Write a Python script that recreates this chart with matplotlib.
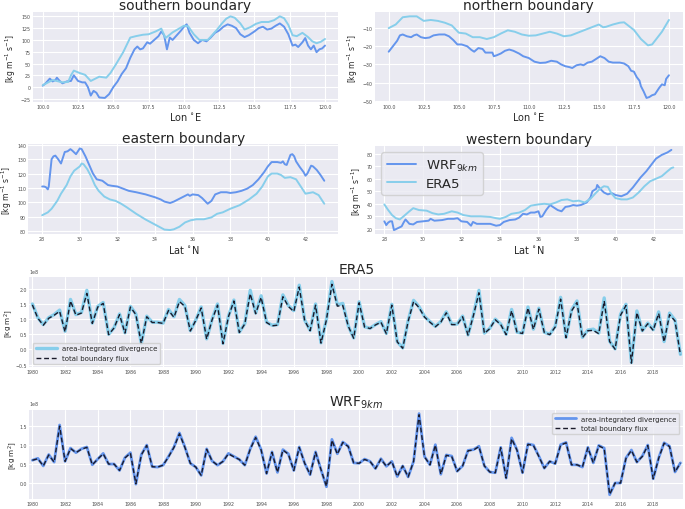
import numpy as np
import matplotlib
matplotlib.use("Agg")
import matplotlib.pyplot as plt
import seaborn as sns

# ---------------- data ----------------
# southern boundary
s_era_lon = [100.0, 100.7, 101.4, 101.8, 102.0, 102.2, 102.6, 103.0, 103.4, 104.0, 104.5, 104.8,
             105.2, 105.7, 106.2, 106.6, 107.1, 107.5, 108.0, 108.4, 108.7, 109.2, 109.6, 110.0,
             110.3, 110.7, 111.1, 111.7, 112.3, 112.7, 113.0, 113.3, 113.6, 114.0, 114.3, 114.7,
             115.1, 115.5, 116.0, 116.4, 116.8, 117.1, 117.4, 117.7, 118.0, 118.4, 118.8, 119.1,
             119.4, 119.7, 120.0]
s_era_val = [4, 15, 10, 11, 25, 35, 30, 26, 13, 22, 20, 30,
             49, 74, 105, 108, 111, 112, 118, 124, 104, 116, 123, 130,
             129, 112, 100, 100, 120, 135, 145, 150, 147, 135, 122, 127,
             134, 138, 138, 142, 150, 146, 132, 110, 108, 115, 106, 97,
             93, 96, 102]
s_wrf_lon = [100.0, 100.2, 100.5, 100.7, 100.9, 101.0, 101.2, 101.4, 101.7, 102.0, 102.2, 102.5,
             102.8, 103.0, 103.2, 103.4, 103.6, 103.8, 104.0, 104.4, 104.7, 105.0, 105.3, 105.6,
             105.9, 106.2, 106.5, 106.7, 106.9, 107.1, 107.4, 107.6, 107.9, 108.2, 108.4, 108.6,
             108.8, 109.0, 109.2, 109.5, 109.8, 110.0, 110.2, 110.4, 110.7, 111.0, 111.3, 111.6,
             111.9, 112.2, 112.5, 112.8, 113.1, 113.4, 113.7, 114.0, 114.3, 114.6, 115.0, 115.3,
             115.6, 115.9, 116.2, 116.5, 116.8, 117.1, 117.4, 117.7, 117.9, 118.1, 118.4, 118.6,
             118.8, 119.0, 119.2, 119.4, 119.6, 119.8, 120.0]
s_wrf_val = [3, 8, 18, 12, 15, 20, 13, 8, 12, 13, 25, 13,
             10, 10, 0, -18, -8, -12, -22, -23, -15, 0, 12, 28,
             40, 62, 80, 86, 80, 82, 95, 92, 100, 108, 118, 110,
             80, 105, 100, 110, 120, 128, 133, 115, 100, 93, 100, 97,
             105, 115, 120, 128, 133, 130, 125, 112, 106, 110, 118, 125,
             128, 122, 124, 130, 135, 128, 112, 88, 90, 85, 95, 104,
             88, 80, 88, 74, 80, 82, 88]

# northern boundary
n_era_lon = [100.0, 100.5, 101.0, 101.5, 102.0, 102.5, 103.0, 103.5, 104.0, 104.5, 105.0, 105.5,
             106.0, 106.5, 107.0, 107.5, 108.0, 108.5, 109.0, 109.5, 110.0, 110.5, 111.0, 111.5,
             112.0, 112.5, 113.0, 113.5, 114.0, 114.5, 115.0, 115.3, 115.5, 116.0, 116.5, 116.8,
             117.0, 117.5, 118.0, 118.5, 118.8, 119.0, 119.5, 120.0]
n_era_val = [-10, -8, -4, -3.5, -3.5, -6, -5.5, -6, -7, -8.5, -12.5, -13,
             -15, -15, -16, -15, -13, -11.2, -12, -13.5, -14.2, -14, -13, -12,
             -13, -14.5, -14, -12.5, -11, -9.5, -8, -9.5, -9.3, -8, -7, -6.8,
             -8, -11, -16, -19.5, -19, -17, -12, -5.5]
n_wrf_lon = [100.0, 100.3, 100.6, 100.8, 101.0, 101.3, 101.6, 101.8, 102.0, 102.3, 102.6, 102.9,
             103.2, 103.6, 104.0, 104.3, 104.6, 104.9, 105.2, 105.6, 105.9, 106.1, 106.4, 106.7,
             106.9, 107.2, 107.4, 107.5, 107.7, 108.0, 108.3, 108.6, 108.9, 109.3, 109.6, 110.0,
             110.4, 110.8, 111.2, 111.6, 112.0, 112.3, 112.6, 112.9, 113.1, 113.4, 113.7, 113.9,
             114.2, 114.5, 114.8, 115.1, 115.4, 115.7, 116.0, 116.5, 116.8, 117.1, 117.3, 117.5,
             117.7, 117.9, 118.0, 118.2, 118.4, 118.6, 118.8, 119.0, 119.3, 119.5, 119.7, 119.8,
             120.0]
n_wrf_val = [-23, -20, -17, -14, -13.5, -14.5, -15, -14, -13.5, -15, -15.5, -15.2,
             -14, -13.5, -13.5, -14.5, -16.5, -19, -19, -20, -22, -23, -21, -21.5,
             -23.5, -23.5, -23.5, -25.5, -25, -24, -22.5, -21.8, -22.5, -24, -25.5, -26.5,
             -28.5, -29.2, -29, -28, -28.5, -30, -31, -31.5, -32, -30.5, -30, -30.5,
             -29, -28.5, -27, -25.5, -26.5, -28.5, -29, -29, -29.5, -31, -33.5, -34,
             -37, -39, -42, -45, -48.5, -48, -47, -46.5, -43, -41, -41.5, -38,
             -36]

# eastern boundary
e_wrf_lat = [28.0, 28.1, 28.2, 28.3, 28.35, 28.5, 28.6, 28.7, 28.85, 29.0, 29.2, 29.35,
             29.5, 29.6, 29.8, 30.0, 30.1, 30.3, 30.5, 30.7, 30.9, 31.2, 31.5, 31.7,
             32.0, 32.3, 32.6, 33.0, 33.5, 34.0, 34.3, 34.5, 34.8, 35.0, 35.3, 35.6,
             35.75, 35.85, 36.0, 36.3, 36.5, 36.8, 37.0, 37.2, 37.5, 37.8, 38.0, 38.3,
             38.6, 38.9, 39.2, 39.5, 39.8, 40.0, 40.2, 40.5, 40.7, 40.8, 40.9, 41.0,
             41.2, 41.3, 41.4, 41.5, 41.7, 41.9, 42.0, 42.1, 42.3, 42.4, 42.6, 42.8,
             43.0]
e_wrf_val = [111, 111, 110.5, 109, 111, 130, 132, 132.5, 130, 127, 135, 135.5,
             137, 136, 133.5, 137.5, 137, 132, 126, 120, 116, 115, 112, 111.5,
             111, 109.5, 108, 107, 105.5, 103.5, 102, 100.5, 99.5, 100.5, 102.5, 104.5,
             105.5, 104.5, 105.5, 105, 103, 99, 101, 105.5, 107, 107, 106.5, 107,
             108, 109.5, 112, 116, 121, 125, 128, 128, 127.5, 128.5, 126.5, 126,
             133, 133.5, 132, 128.5, 124.5, 121, 118.5, 120, 125.5, 125, 122.5, 119,
             115]
e_era_lat = [28.0, 28.3, 28.5, 28.8, 29.0, 29.3, 29.5, 29.7, 30.0, 30.1, 30.2, 30.4,
             30.6, 30.8, 31.0, 31.3, 31.6, 31.9, 32.2, 32.5, 33.0, 33.5, 34.0, 34.5,
             34.8, 35.0, 35.3, 35.6, 35.9, 36.2, 36.6, 37.0, 37.3, 37.6, 38.0, 38.5,
             39.0, 39.4, 39.7, 40.0, 40.2, 40.5, 40.7, 40.9, 41.2, 41.5, 41.8, 42.0,
             42.2, 42.4, 42.7, 42.85, 43.0]
e_era_val = [91, 93, 95.5, 101, 106, 112, 118, 122, 125, 127, 126.5, 123,
             118, 112, 108, 104, 102, 101, 99, 96.5, 92, 88, 84.5, 81,
             80.7, 81.2, 83, 86, 87.5, 88.2, 88.2, 89.5, 92, 93, 95.5, 98,
             102, 106, 111, 118, 120, 120, 119, 117, 117.5, 116, 110, 106,
             106.5, 107, 105, 102, 99]

# western boundary
w_wrf_lat = [28.0, 28.1, 28.2, 28.3, 28.4, 28.5, 28.7, 28.9, 29.0, 29.1, 29.3, 29.5,
             29.7, 30.0, 30.3, 30.4, 30.6, 31.0, 31.3, 31.6, 31.8, 32.0, 32.3, 32.5,
             32.6, 32.8, 33.2, 33.5, 33.8, 34.0, 34.2, 34.5, 34.8, 35.0, 35.2, 35.4,
             35.6, 35.8, 36.0, 36.1, 36.2, 36.4, 36.6, 36.8, 37.0, 37.2, 37.4, 37.6,
             37.8, 38.0, 38.2, 38.5, 38.7, 38.8, 39.0, 39.05, 39.2, 39.4, 39.6, 39.8,
             40.0, 40.3, 40.6, 40.9, 41.1, 41.3, 41.6, 41.9, 42.1, 42.4, 42.7, 42.9]
w_wrf_val = [26, 23, 25, 26, 26, 19, 20.5, 22, 25, 27.5, 24, 23.5,
             25.5, 26, 26.5, 28, 26.5, 27, 28, 28, 28.5, 26, 25.5, 22.5,
             25.5, 24, 24, 24, 22.5, 23, 25.5, 27, 27.5, 29, 32, 31.5,
             33, 33, 34, 29.5, 30, 35, 39, 37, 35, 34, 37.5, 38,
             39, 38.5, 39, 41, 45, 50, 52, 55, 52, 49, 47.5, 48.5,
             47, 46, 48, 53, 57, 61, 66, 72, 76, 79, 81, 83]
w_era_lat = [28.0, 28.2, 28.4, 28.6, 28.8, 29.0, 29.3, 29.5, 29.8, 30.2, 30.5, 30.8,
             31.1, 31.5, 31.8, 32.1, 32.5, 33.0, 33.5, 33.8, 34.0, 34.3, 34.6, 35.0,
             35.3, 35.6, 36.0, 36.3, 36.6, 36.9, 37.2, 37.5, 37.8, 38.1, 38.4, 38.7,
             39.0, 39.2, 39.4, 39.6, 39.8, 40.0, 40.3, 40.6, 40.9, 41.2, 41.5, 41.8,
             42.1, 42.4, 42.7, 42.9, 43.0]
w_era_val = [39.5, 35, 31, 28.5, 27.5, 30, 34, 36.5, 35, 34.5, 32.5, 31.5,
             32, 34, 33, 31, 30, 30, 29.5, 28.5, 28, 29.5, 32, 33,
             35, 38.5, 39.5, 40, 39.5, 41, 43, 43.5, 42, 42.5, 41, 44,
             49, 52, 54, 53.5, 48, 44.5, 43.5, 43.5, 45, 49, 54, 58,
             60, 62, 66, 68.5, 69]

# time series (3 values per year, 1980 - 2019), units 1e8 kg m^2
ts_start_year = 1980
ts_per_year = 3
era_div = [1.50, 1.05, 0.82, 1.05, 1.15, 1.30, 0.60, 1.65, 1.15, 1.22,
           1.95, 0.87, 1.42, 1.55, 0.50, 0.72, 1.17, 0.55, 1.42, 1.17,
           0.20, 1.10, 0.90, 0.90, 0.87, 1.32, 1.08, 1.65, 1.45, 0.62,
           0.97, 1.40, 0.35, 1.00, 1.50, 0.20, 1.10, 1.63, 0.57, 0.85,
           1.95, 1.20, 1.77, 0.90, 0.80, 0.82, 1.80, 1.45, 1.28, 2.12,
           0.97, 0.63, 1.50, 0.22, 1.00, 2.24, 1.47, 1.52, 0.78, 0.38,
           1.57, 0.75, 0.70, 0.82, 0.92, 0.53, 1.49, 0.26, 0.05, 0.95,
           1.62, 1.41, 1.09, 0.92, 0.76, 0.92, 1.24, 0.84, 0.84, 1.10,
           0.48, 1.16, 1.95, 0.54, 0.70, 1.00, 0.84, 0.50, 1.32, 0.57,
           0.54, 1.40, 0.67, 1.36, 0.57, 0.50, 0.76, 1.72, 0.40, 1.30,
           1.60, 0.40, 0.64, 0.67, 0.54, 1.70, 0.27, 0.02, 1.16, 1.49,
           -0.43, 1.27, 0.62, 0.87, 0.65, 1.24, 0.26, 1.20, 0.97, -0.16]
era_flux = [1.47, 1.03, 0.80, 1.03, 1.13, 1.26, 0.58, 1.60, 1.13, 1.20,
            1.85, 0.86, 1.40, 1.52, 0.49, 0.71, 1.15, 0.54, 1.40, 1.15,
            0.19, 1.08, 0.89, 0.89, 0.86, 1.29, 1.06, 1.58, 1.42, 0.61,
            0.96, 1.37, 0.34, 0.98, 1.46, 0.19, 1.08, 1.60, 0.56, 0.84,
            1.84, 1.18, 1.72, 0.89, 0.78, 0.80, 1.74, 1.42, 1.25, 2.06,
            0.95, 0.62, 1.46, 0.21, 0.98, 2.15, 1.43, 1.45, 0.77, 0.37,
            1.54, 0.74, 0.69, 0.81, 0.90, 0.52, 1.46, 0.25, 0.04, 0.93,
            1.58, 1.38, 1.07, 0.90, 0.75, 0.90, 1.21, 0.82, 0.82, 1.08,
            0.47, 1.13, 1.87, 0.53, 0.69, 0.98, 0.82, 0.49, 1.28, 0.56,
            0.53, 1.37, 0.66, 1.33, 0.56, 0.49, 0.74, 1.66, 0.39, 1.27,
            1.55, 0.39, 0.62, 0.63, 0.52, 1.60, 0.26, 0.01, 1.13, 1.45,
            -0.45, 1.22, 0.61, 0.85, 0.63, 1.19, 0.25, 1.15, 0.94, -0.18]
wrf_div = [0.60, 0.65, 0.45, 0.75, 0.55, 1.53, 0.57, 0.92, 0.80, 0.90,
           0.95, 0.48, 0.63, 0.78, 0.50, 0.50, 0.33, 0.67, 0.80, -0.03,
           0.75, 1.00, 0.43, 0.42, 0.47, 0.70, 0.95, 1.32, 0.95, 0.52,
           0.42, 0.20, 0.90, 0.58, 0.47, 0.57, 0.78, 0.70, 0.62, 0.47,
           0.90, 1.22, 0.88, 0.25, 0.82, 0.28, 0.88, 0.77, 0.33, 0.95,
           0.52, 0.22, 0.82, 0.35, -0.10, 1.15, 0.77, 1.08, 0.97, 0.53,
           0.52, 0.63, 0.57, 0.38, 0.64, 0.44, 0.57, 0.17, 0.45, 0.16,
           0.57, 1.83, 0.70, 0.48, 1.01, 0.23, 0.74, 0.71, 0.31, 0.45,
           0.86, 0.88, 0.97, 0.45, 0.29, 0.27, 0.94, 0.13, 1.19, 0.87,
           0.27, 1.03, 1.00, 0.71, 0.39, 0.57, 0.51, 1.01, 1.07, 0.48,
           0.48, 0.42, 0.94, 0.53, 0.99, 0.92, -0.31, 0.00, 0.00, 0.66,
           0.87, 0.55, 0.71, 1.00, 0.11, 0.66, 1.06, 0.97, 0.29, 0.53]
wrf_flux = [0.60, 0.64, 0.45, 0.74, 0.55, 1.50, 0.57, 0.91, 0.80, 0.89,
            0.94, 0.48, 0.63, 0.77, 0.50, 0.50, 0.33, 0.66, 0.79, -0.02,
            0.74, 0.99, 0.43, 0.42, 0.47, 0.69, 0.94, 1.30, 0.94, 0.52,
            0.42, 0.20, 0.89, 0.58, 0.47, 0.57, 0.77, 0.69, 0.62, 0.47,
            0.89, 1.20, 0.87, 0.25, 0.81, 0.28, 0.87, 0.76, 0.33, 0.94,
            0.52, 0.22, 0.81, 0.35, -0.09, 1.13, 0.76, 1.07, 0.96, 0.53,
            0.52, 0.62, 0.57, 0.38, 0.63, 0.44, 0.57, 0.17, 0.45, 0.16,
            0.57, 1.80, 0.69, 0.48, 1.00, 0.23, 0.73, 0.70, 0.31, 0.45,
            0.85, 0.87, 0.96, 0.45, 0.29, 0.27, 0.93, 0.13, 1.17, 0.86,
            0.27, 1.02, 0.99, 0.70, 0.39, 0.57, 0.51, 1.00, 1.06, 0.48,
            0.48, 0.42, 0.93, 0.53, 0.98, 0.91, -0.30, 0.00, 0.00, 0.65,
            0.86, 0.55, 0.70, 0.99, 0.11, 0.65, 1.05, 0.96, 0.29, 0.53]

# ---------------- style ----------------
sns.set_style("darkgrid")
plt.rcParams['font.family'] = ['DejaVu Sans']
C_WRF = "cornflowerblue"
C_ERA = "skyblue"
TICK_FS = 3.4
TITLE_FS = 10
LAB_FS = 7
YLAB_FS = 5.5

fig = plt.figure(figsize=(6.85, 5.10), dpi=100)

def style(ax):
    ax.tick_params(axis='both', labelsize=TICK_FS, pad=1.5, length=0, colors='0.3')
    for s in ax.spines.values():
        s.set_visible(False)

# top-left: southern
ax1 = fig.add_axes([0.048, 0.798, 0.445, 0.176])
ax1.plot(s_wrf_lon, s_wrf_val, color=C_WRF, lw=1.4)
ax1.plot(s_era_lon, s_era_val, color=C_ERA, lw=1.4)
ax1.set_title("southern boundary", fontsize=TITLE_FS, pad=2, color='0.15')
ax1.set_xlabel("Lon $^{\\circ}$E", fontsize=LAB_FS, labelpad=1, color='0.15')
ax1.set_ylabel("[kg m$^{-1}$ s$^{-1}$]", fontsize=YLAB_FS, labelpad=2, color='0.15')
ax1.set_xticks(np.arange(100, 120.1, 2.5))
ax1.set_yticks(np.arange(-25, 151, 25))
ax1.set_xlim(99.3, 120.9)
style(ax1)

# top-right: northern
ax2 = fig.add_axes([0.547, 0.798, 0.450, 0.176])
ax2.plot(n_wrf_lon, n_wrf_val, color=C_WRF, lw=1.4)
ax2.plot(n_era_lon, n_era_val, color=C_ERA, lw=1.4)
ax2.set_title("northern boundary", fontsize=TITLE_FS, pad=2, color='0.15')
ax2.set_xlabel("Lon $^{\\circ}$E", fontsize=LAB_FS, labelpad=1, color='0.15')
ax2.set_ylabel("[kg m$^{-1}$ s$^{-1}$]", fontsize=YLAB_FS, labelpad=2, color='0.15')
ax2.set_xticks(np.arange(100, 120.1, 2.5))
ax2.set_yticks(np.arange(-50, -9, 10))
ax2.set_xlim(99.0, 121.0)
style(ax2)

# mid-left: eastern
ax3 = fig.add_axes([0.041, 0.539, 0.453, 0.176])
ax3.plot(e_wrf_lat, e_wrf_val, color=C_WRF, lw=1.4)
ax3.plot(e_era_lat, e_era_val, color=C_ERA, lw=1.4)
ax3.set_title("eastern boundary", fontsize=TITLE_FS, pad=2, color='0.15')
ax3.set_xlabel("Lat $^{\\circ}$N", fontsize=LAB_FS, labelpad=1, color='0.15')
ax3.set_ylabel("[kg m$^{-1}$ s$^{-1}$]", fontsize=YLAB_FS, labelpad=2, color='0.15')
ax3.set_xticks(np.arange(28, 43, 2))
ax3.set_yticks(np.arange(80, 141, 10))
style(ax3)

# mid-right: western
ax4 = fig.add_axes([0.547, 0.539, 0.450, 0.173])
ax4.plot(w_wrf_lat, w_wrf_val, color=C_WRF, lw=1.4, label="WRF$_{9km}$")
ax4.plot(w_era_lat, w_era_val, color=C_ERA, lw=1.4, label="ERA5")
ax4.set_title("western boundary", fontsize=TITLE_FS, pad=2, color='0.15')
ax4.set_xlabel("Lat $^{\\circ}$N", fontsize=LAB_FS, labelpad=1, color='0.15')
ax4.set_ylabel("[kg m$^{-1}$ s$^{-1}$]", fontsize=YLAB_FS, labelpad=2, color='0.15')
ax4.set_xticks(np.arange(28, 43, 2))
ax4.set_yticks(np.arange(20, 81, 10))
ax4.set_xlim(27.5, 43.5)
ax4.legend(loc="upper left", fontsize=9.5, handlelength=2.2, borderpad=0.4,
           labelspacing=0.3, frameon=True, facecolor='#EAEAF2', edgecolor='0.8')
style(ax4)

# time axis
n = len(era_div)
years = ts_start_year + np.arange(n) / ts_per_year
era_div_v = np.array(era_div) * 1e8
era_flux_v = np.array(era_flux) * 1e8
wrf_div_v = np.array(wrf_div) * 1e8
wrf_flux_v = np.array(wrf_flux) * 1e8

ax5 = fig.add_axes([0.043, 0.278, 0.954, 0.176])
ax5.plot(years, era_div_v, color=C_ERA, lw=2.4, label="area-integrated divergence")
ax5.plot(years, era_flux_v, color='#1a1a2a', lw=1.0, ls=(0, (3.5, 2)), label="total boundary flux")
ax5.set_title("ERA5", fontsize=TITLE_FS, pad=3, color='0.15')
ax5.set_ylabel("[kg m$^{2}$]", fontsize=5.2, labelpad=0.5, color='0.15')
ax5.set_xticks(np.arange(1980, 2019, 2))
ax5.set_yticks(np.arange(-0.5, 2.01, 0.5) * 1e8)
ax5.set_xlim(1979.82, 2019.82)
ax5.legend(loc="lower left", fontsize=5, handlelength=3, frameon=True,
           facecolor='#EAEAF2', edgecolor='0.8', borderpad=0.4)
style(ax5)
ax5.yaxis.get_offset_text().set_fontsize(TICK_FS)

ax6 = fig.add_axes([0.043, 0.020, 0.954, 0.175])
ax6.plot(years, wrf_div_v, color=C_WRF, lw=2.0, label="area-integrated divergence")
ax6.plot(years, wrf_flux_v, color='#1a1a2a', lw=1.0, ls=(0, (3.5, 2)), label="total boundary flux")
ax6.set_title("WRF$_{9km}$", fontsize=TITLE_FS, pad=3, color='0.15')
ax6.set_ylabel("[kg m$^{2}$]", fontsize=5.2, labelpad=0.5, color='0.15')
ax6.set_xticks(np.arange(1980, 2019, 2))
ax6.set_yticks(np.arange(0, 1.51, 0.5) * 1e8)
ax6.set_xlim(1979.82, 2019.82)
ax6.legend(loc="upper right", fontsize=5, handlelength=3, frameon=True,
           facecolor='#EAEAF2', edgecolor='0.8', borderpad=0.4)
style(ax6)
ax6.yaxis.get_offset_text().set_fontsize(TICK_FS)

fig.savefig("out.png", dpi=100)
